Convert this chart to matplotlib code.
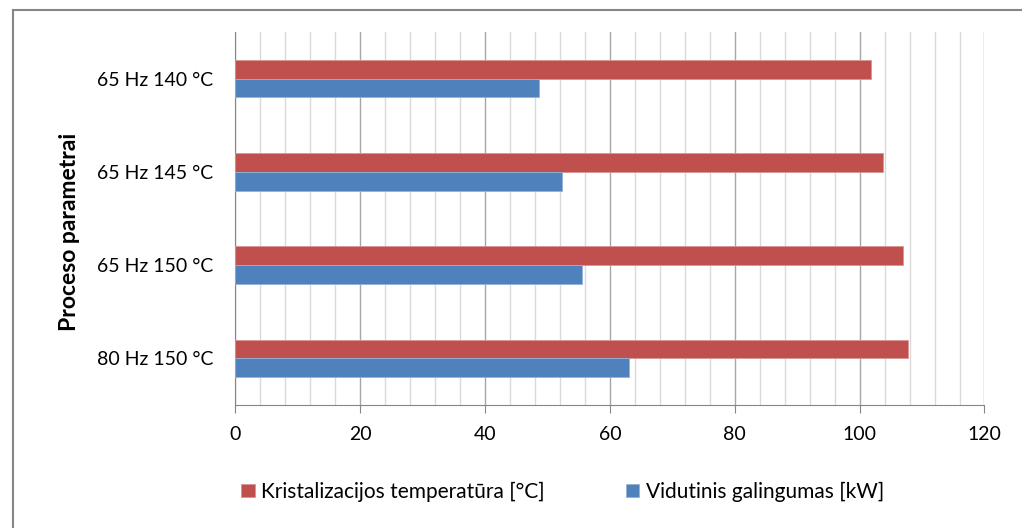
import numpy as np
import matplotlib.pyplot as plt
from matplotlib.patches import Rectangle

# data, bottom to top as drawn
categories = ["80 Hz 150 °C", "65 Hz 150 °C", "65 Hz 145 °C", "65 Hz 140 °C"]
temperatura = [107.8, 106.9, 103.8, 101.8]
galingumas = [63.0, 55.5, 52.3, 48.7]
xticks = [0, 20, 40, 60, 80, 100, 120]

red = "#c0504d"
blue = "#4f81bd"

plt.rcParams['font.family'] = ['Lato', 'DejaVu Sans']

fig = plt.figure(figsize=(10.22, 5.28), dpi=100)
ax = fig.add_axes([0.2304, 0.2330, 0.7329, 0.7064])

# outer chart border
fig.patches.append(Rectangle((13 / 1022, -0.1), 1.1, (528 - 10) / 528 + 0.1,
                             transform=fig.transFigure, fill=False,
                             edgecolor="#868686", linewidth=1.5))

y = np.arange(len(categories))
h = 0.2
ax.barh(y + h / 2, temperatura, height=h, color=red, edgecolor="#d99694",
        linewidth=0.6, label="Kristalizacijos temperatūra [°C]", zorder=3)
ax.barh(y - h / 2, galingumas, height=h, color=blue, edgecolor="#95b3d7",
        linewidth=0.6, label="Vidutinis galingumas [kW]", zorder=3)

ax.set_xlim(0, 120)
ax.set_ylim(-0.5, 3.5)
ax.set_xticks(xticks)
ax.set_xticks(np.arange(0, 121, 4), minor=True)
ax.grid(axis="x", which="minor", color="#d9d9d9", linewidth=1, zorder=0)
ax.grid(axis="x", which="major", color="#a6a6a6", linewidth=1, zorder=0)
ax.tick_params(axis="x", which="minor", length=0)
ax.tick_params(axis="x", which="major", length=6, color="#868686",
               labelsize=14, pad=9)
ax.set_yticks(y)
ax.set_yticklabels(categories, fontsize=14)
ax.tick_params(axis="y", length=0, pad=16)

for side in ["top", "right"]:
    ax.spines[side].set_visible(False)
for side in ["left", "bottom"]:
    ax.spines[side].set_color("#868686")

ax.set_ylabel("Proceso parametrai", fontsize=16.5, fontweight="bold")
ax.yaxis.set_label_coords(-0.2076, 0.464)

ax.legend(loc="upper left", bbox_to_anchor=(-0.017, -0.155), ncol=2,
          frameon=False, fontsize=15, handlelength=0.63, handleheight=0.63,
          handletextpad=0.33, columnspacing=3.9)

fig.savefig("out.png", dpi=100)
